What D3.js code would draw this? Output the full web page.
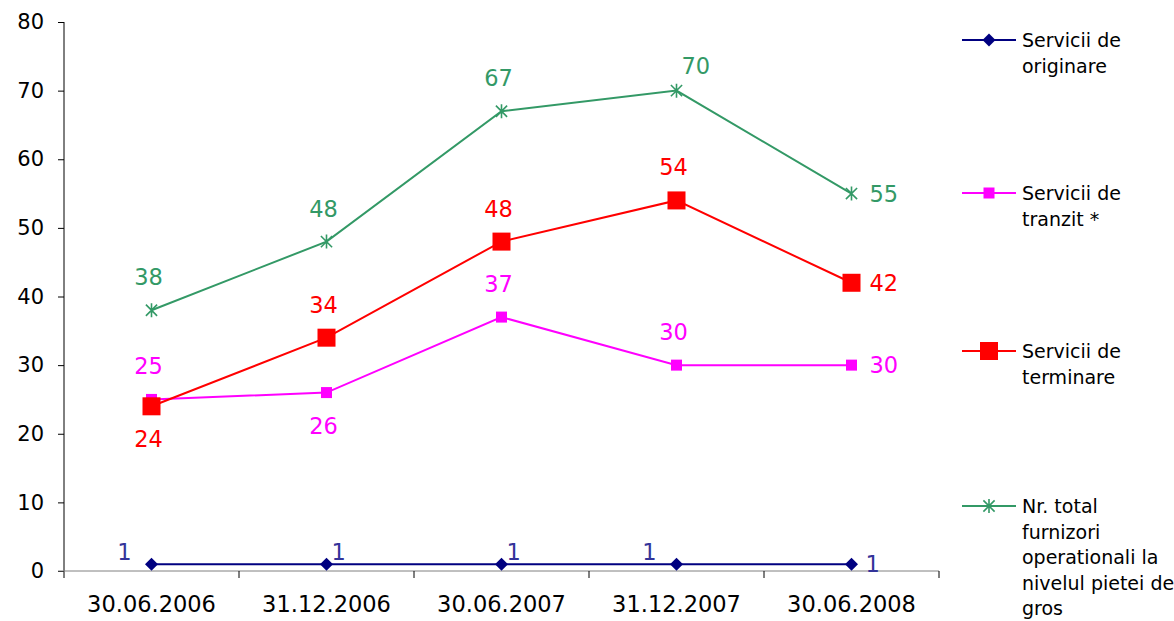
<!DOCTYPE html>
<html>
<head>
<meta charset="utf-8">
<script src="https://cdn.jsdelivr.net/npm/d3@7"></script>
<style>
  body { margin: 0; background: #fff; }
  text { font-family: "DejaVu Sans", Verdana, sans-serif; }
</style>
</head>
<body>
<script>
const categories = ["30.06.2006", "31.12.2006", "30.06.2007", "31.12.2007", "30.06.2008"];
const originare = [1, 1, 1, 1, 1];
const tranzit = [25, 26, 37, 30, 30];
const terminare = [24, 34, 48, 54, 42];
const totalFurnizori = [38, 48, 67, 70, 55];
const yTicks = [0, 10, 20, 30, 40, 50, 60, 70, 80];

const margin = { top: 22, right: 235, bottom: 50, left: 64 },
    width = 1174, height = 621,
    innerW = 939 - margin.left,
    innerH = 571 - margin.top;

const series = [
    { name: ["Servicii de", "originare"], values: originare, color: "#000080", label: "#333399", marker: "diamond", size: 13,
      pos: ["left", "right", "right", "left", "side"] },
    { name: ["Servicii de", "tranzit *"], values: tranzit, color: "#ff00ff", label: "#ff00ff", marker: "square", size: 11,
      pos: ["above", "below", "above", "above", "side"] },
    { name: ["Servicii de", "terminare"], values: terminare, color: "#ff0000", label: "#ff0000", marker: "square", size: 18,
      pos: ["below", "above", "above", "above", "side"] },
    { name: ["Nr. total", "furnizori", "operationali la", "nivelul pietei de", "gros"], values: totalFurnizori, color: "#339966", label: "#339966", marker: "star", size: 14,
      pos: ["above", "above", "above", "aboveright", "side"] }
];

const x = d3.scaleBand().domain(categories).range([0, innerW]);
const y = d3.scaleLinear().domain([0, 80]).range([innerH, 0]);

const svg = d3.select("body").append("svg")
    .attr("width", width)
    .attr("height", height);

const g = svg.append("g")
    .attr("transform", "translate(" + margin.left + "," + margin.top + ")");

// y axis
const yAxis = g.append("g")
    .call(d3.axisLeft(y).tickValues(yTicks).tickSize(6).tickSizeOuter(0));
yAxis.select(".domain").attr("d", "M0," + (innerH + 7) + "V0").attr("stroke", "#000");
yAxis.selectAll(".tick line").attr("stroke", "#000");
yAxis.selectAll(".tick text")
    .attr("x", -20)
    .attr("font-size", 21)
    .attr("font-family", "DejaVu Sans, Verdana, sans-serif")
    .attr("fill", "#000");

// x axis
const xAxis = g.append("g")
    .attr("transform", "translate(0," + innerH + ")")
    .call(d3.axisBottom(x).tickSize(0).tickSizeOuter(0));
xAxis.select(".domain").attr("d", "M-6,0H" + innerW).attr("stroke", "#808080");
xAxis.selectAll(".tick text")
    .attr("y", 25)
    .attr("font-size", 22.5)
    .attr("font-family", "DejaVu Sans, Verdana, sans-serif")
    .attr("fill", "#000");
xAxis.selectAll("line.sep")
    .data(categories.slice(1).concat(["end"]))
    .enter().append("line")
    .attr("class", "sep")
    .attr("x1", (d, i) => x.step() * (i + 1))
    .attr("x2", (d, i) => x.step() * (i + 1))
    .attr("y1", 0).attr("y2", 7)
    .attr("stroke", "#000");

const cx = d => x(d) + x.bandwidth() / 2;

function drawMarker(sel, s, px, py) {
    const h = s.size / 2;
    if (s.marker === "diamond") {
        sel.append("path")
            .attr("d", `M${px},${py - h}L${px + h},${py}L${px},${py + h}L${px - h},${py}Z`)
            .attr("fill", s.color);
    } else if (s.marker === "square") {
        sel.append("rect")
            .attr("x", px - h).attr("y", py - h)
            .attr("width", s.size).attr("height", s.size)
            .attr("fill", s.color);
    } else {
        const a = h * 0.8;
        sel.append("path")
            .attr("d", `M${px - a},${py - a}L${px + a},${py + a}M${px - a},${py + a}L${px + a},${py - a}M${px},${py - h}V${py + h}`)
            .attr("stroke", s.color).attr("stroke-width", 1.6).attr("fill", "none");
    }
}

const line = d3.line()
    .x((d, i) => cx(categories[i]))
    .y(d => y(d));

series.forEach(s => {
    const sg = g.append("g");
    sg.append("path")
        .datum(s.values)
        .attr("d", line)
        .attr("fill", "none")
        .attr("stroke", s.color)
        .attr("stroke-width", 2);
    s.values.forEach((v, i) => drawMarker(sg, s, cx(categories[i]), y(v)));

    sg.selectAll("text.val")
        .data(s.values)
        .enter().append("text")
        .attr("class", "val")
        .attr("font-size", 22.5)
        .attr("fill", s.label)
        .attr("dominant-baseline", "central")
        .attr("text-anchor", (d, i) => s.pos[i] === "side" || s.pos[i] === "right" || s.pos[i] === "aboveright" ? "start" : (s.pos[i] === "left" ? "end" : "middle"))
        .attr("x", (d, i) => {
            const px = cx(categories[i]);
            const p = s.pos[i];
            if (p === "side") return px + (s.marker === "diamond" ? 14 : 18);
            if (p === "right") return px + 5;
            if (p === "left") return px - 20;
            if (p === "aboveright") return px + 5;
            return px - 3;
        })
        .attr("y", (d, i) => {
            const py = y(d);
            const p = s.pos[i];
            if (p === "side") return py;
            if (p === "right" || p === "left") return py - 12;
            if (p === "below") return py + 33;
            if (p === "aboveright") return py - 25;
            return py - 33;
        })
        .text(d => d);
});

// legend
const legendY = [40, 193, 351, 506];
const lg = svg.append("g");
series.forEach((s, k) => {
    const ly = legendY[k];
    lg.append("line")
        .attr("x1", 962).attr("x2", 1016)
        .attr("y1", ly).attr("y2", ly)
        .attr("stroke", s.color).attr("stroke-width", 2);
    drawMarker(lg, s, 989, ly);
    const t = lg.append("text")
        .attr("x", 1022)
        .attr("y", ly)
        .attr("font-size", 19)
        .attr("font-family", "Tahoma, 'DejaVu Sans', sans-serif")
        .attr("fill", "#000");
    s.name.forEach((n, j) => {
        t.append("tspan")
            .attr("x", 1022)
            .attr("y", ly + j * 25.5)
            .attr("dominant-baseline", "central")
            .text(n);
    });
});
</script>
</body>
</html>
